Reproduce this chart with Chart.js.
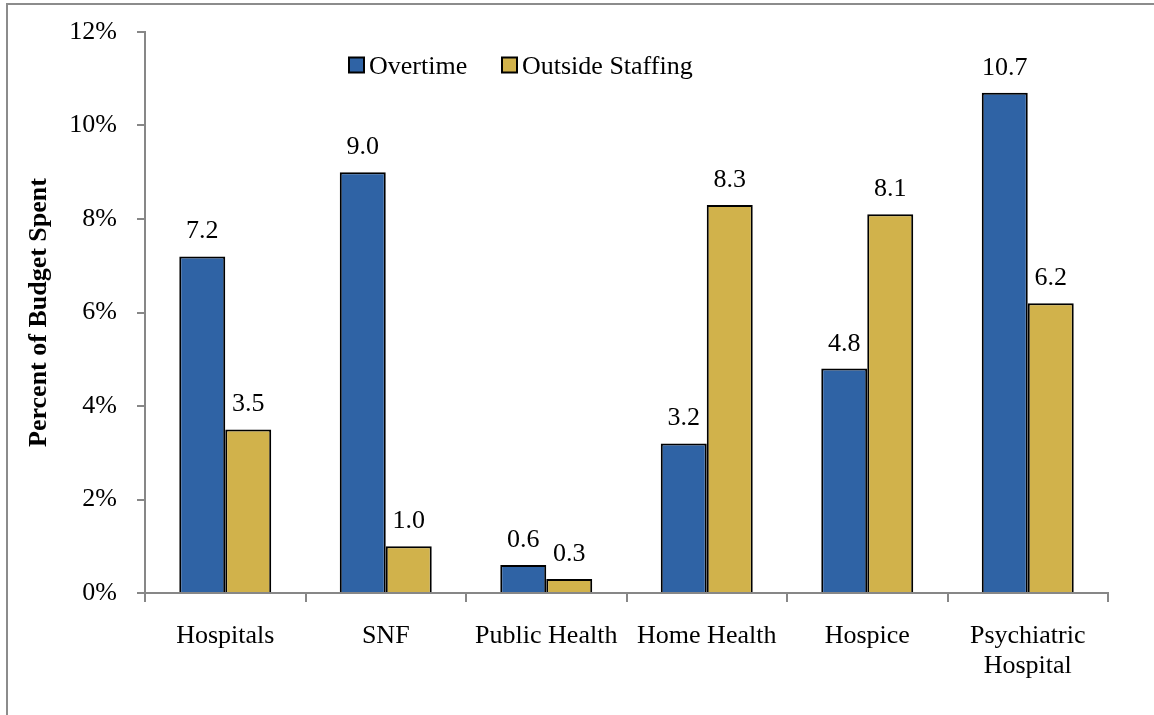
<!DOCTYPE html>
<html>
<head>
<meta charset="utf-8">
<script src="https://cdn.jsdelivr.net/npm/chart.js@4/dist/chart.umd.min.js"></script>
<style>
  html, body { margin: 0; padding: 0; background: #fff; overflow: hidden; }
  #wrap { position: relative; width: 1154px; height: 715px; }
  #frame { position: absolute; left: 6px; top: 3px; width: 2000px; height: 2000px;
           border-left: 2px solid #8c8c8c; border-top: 2px solid #8c8c8c; pointer-events: none; }
  canvas { position: absolute; left: 0; top: 0; }
</style>
</head>
<body>
<div id="wrap">
  <div id="frame"></div>
  <canvas id="chart" width="1154" height="715"></canvas>
</div>
<script>
// Share of budget spent on overtime and outside staffing, by facility type
const categories = ['Hospitals', 'SNF', 'Public Health', 'Home Health', 'Hospice', ['Psychiatric', 'Hospital']];
const overtime = [7.2, 9.0, 0.6, 3.2, 4.8, 10.7];
const outsideStaffing = [3.5, 1.0, 0.3, 8.3, 8.1, 6.2];
const seriesNames = ['Overtime', 'Outside Staffing'];
const yMin = 0, yMax = 12, yStep = 2;

const FONT = "'Liberation Serif', 'Times New Roman', serif";
const BLUE = '#2f63a5';
const GOLD = '#d1b24b';
const AXIS = '#878787';

// Value labels above each bar
const valueLabels = {
  id: 'valueLabels',
  afterDatasetsDraw(chart) {
    const ctx = chart.ctx;
    ctx.save();
    ctx.font = '26px ' + FONT;
    ctx.fillStyle = '#000';
    ctx.textAlign = 'center';
    ctx.textBaseline = 'alphabetic';
    chart.data.datasets.forEach((ds, i) => {
      chart.getDatasetMeta(i).data.forEach((bar, j) => {
        ctx.fillText(ds.data[j].toFixed(1), bar.x, bar.y - 18);
      });
    });
    ctx.restore();
  }
};

// Legend drawn inside the plot area, near the top
const innerLegend = {
  id: 'innerLegend',
  afterDraw(chart) {
    const ctx = chart.ctx;
    ctx.save();
    ctx.font = '26px ' + FONT;
    ctx.textBaseline = 'middle';
    ctx.textAlign = 'left';
    const starts = [349, 502];
    const y = 65;
    chart.data.datasets.forEach((ds, i) => {
      const x = starts[i];
      ctx.fillStyle = ds.backgroundColor;
      ctx.fillRect(x, y - 7.5, 15, 15);
      ctx.strokeStyle = '#000';
      ctx.lineWidth = 2;
      ctx.strokeRect(x, y - 7.5, 15, 15);
      ctx.fillStyle = '#000';
      ctx.fillText(ds.label, x + 20, y + 2);
    });
    ctx.restore();
  }
};

new Chart(document.getElementById('chart'), {
  type: 'bar',
  data: {
    labels: categories,
    datasets: [
      { label: seriesNames[0], data: overtime, backgroundColor: BLUE, borderColor: '#000', borderWidth: 2,
        barPercentage: 1, categoryPercentage: 0.573 },
      { label: seriesNames[1], data: outsideStaffing, backgroundColor: GOLD, borderColor: '#000', borderWidth: 2,
        barPercentage: 1, categoryPercentage: 0.573 }
    ]
  },
  options: {
    responsive: false,
    devicePixelRatio: 1,
    animation: false,
    layout: { padding: { top: 32, right: 46, left: 0, bottom: 0 } },
    plugins: { legend: { display: false }, tooltip: { enabled: false } },
    scales: {
      x: {
        grid: { offset: true, drawOnChartArea: false, tickLength: 9, color: AXIS, lineWidth: 2 },
        border: { color: AXIS, width: 2 },
        ticks: { color: '#000', font: { family: FONT, size: 26, lineHeight: 1.15 }, padding: 19, maxRotation: 0, autoSkip: false },
        afterFit(scale) { scale.height = 122; }
      },
      y: {
        min: yMin, max: yMax,
        grid: { drawOnChartArea: false, tickLength: 8, color: AXIS, lineWidth: 2 },
        border: { color: AXIS, width: 2 },
        ticks: { stepSize: yStep, color: '#000', font: { family: FONT, size: 26 }, padding: 20,
                 callback: v => v + '%' },
        title: { display: true, text: 'Percent of Budget Spent', color: '#000',
                 font: { family: FONT, size: 26, weight: 'bold' }, padding: { top: 24, bottom: 0 } },
        afterFit(scale) {
          scale.width = 145;
          scale.paddingTop = 0;
          scale.paddingBottom = 0;
        }
      }
    }
  },
  plugins: [valueLabels, innerLegend]
});
</script>
</body>
</html>
